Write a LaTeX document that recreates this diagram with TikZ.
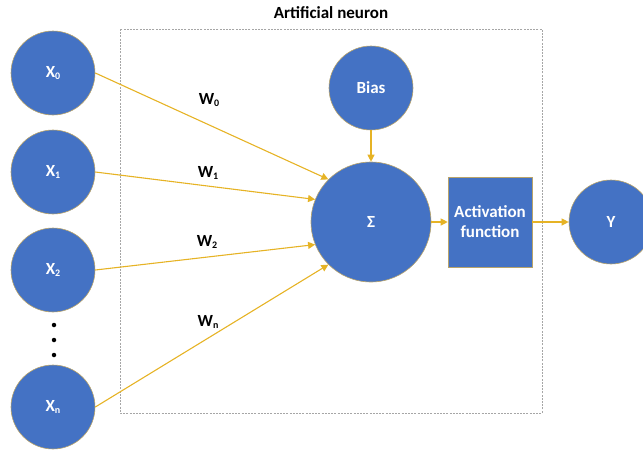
\documentclass[tikz,border=0pt]{standalone}
\usepackage{fontspec}
\setmainfont{Carlito}
\usetikzlibrary{arrows.meta}
\definecolor{nblue}{HTML}{4472C4}
\definecolor{nedge}{HTML}{B8A36A}
\definecolor{agold}{HTML}{E6B325}
\newcommand{\sbs}[1]{\raisebox{-0.25ex}{\fontsize{10}{12}\selectfont #1}}
\tikzset{
  neuron/.style={circle, fill=nblue, draw=nedge, line width=0.6pt, inner sep=0pt, minimum size=#1, text=white, font=\fontsize{17}{19}\selectfont\bfseries},
  actbox/.style={rectangle, fill=nblue, draw=nedge, line width=0.6pt, inner sep=0pt, minimum width=84pt, minimum height=90pt, text=white, align=center, font=\fontsize{17}{20}\selectfont\bfseries},
  conn/.style={draw=agold, line width=1.1pt, -{Triangle[length=7pt,width=7pt]}},
  wlabel/.style={font=\fontsize{17}{19}\selectfont\bfseries, text=black},
  dotn/.style={circle, fill=black, inner sep=0pt, minimum size=4.5pt}
}
\begin{document}
\begin{tikzpicture}[x=1pt,y=-1pt]
\useasboundingbox (0,0) rectangle (643,450);
\draw[gray!70, dashed, dash pattern=on 2pt off 1.2pt, line width=0.6pt] (120,29) rectangle (542,413);
\node[wlabel] (title) at (331,13) {Artificial neuron};
\node[neuron=84pt] (x0) at (53,73) {X\sbs{0}};
\node[neuron=84pt] (x1) at (53,172) {X\sbs{1}};
\node[neuron=84pt] (x2) at (53,270) {X\sbs{2}};
\node[neuron=84pt] (xn) at (53,407) {X\sbs{n}};
\node[dotn] (d1) at (54,325) {};
\node[dotn] (d2) at (54,340) {};
\node[dotn] (d3) at (54,355) {};
\node[neuron=120pt] (s) at (371,222) {Σ};
\node[neuron=84pt] (bias) at (371,88) {Bias};
\node[actbox] (act) at (490,222) {Activation\\function};
\node[neuron=84pt] (y) at (611,222) {Y};
\draw[conn] (x0.east) -- (s.135);
\draw[conn] (x1.east) -- (s.158);
\draw[conn] (x2.east) -- (s.202);
\draw[conn] (xn.east) -- (s.225);
\draw[conn] (bias.south) -- (s.north);
\draw[conn] (s.east) -- (act.west);
\draw[conn] (act.east) -- (y.west);
\node[wlabel] (w0) at (209,100) {W\sbs{0}};
\node[wlabel] (w1) at (208,173) {W\sbs{1}};
\node[wlabel] (w2) at (207,242) {W\sbs{2}};
\node[wlabel] (wn) at (208,322) {W\sbs{n}};
\end{tikzpicture}
\end{document}
